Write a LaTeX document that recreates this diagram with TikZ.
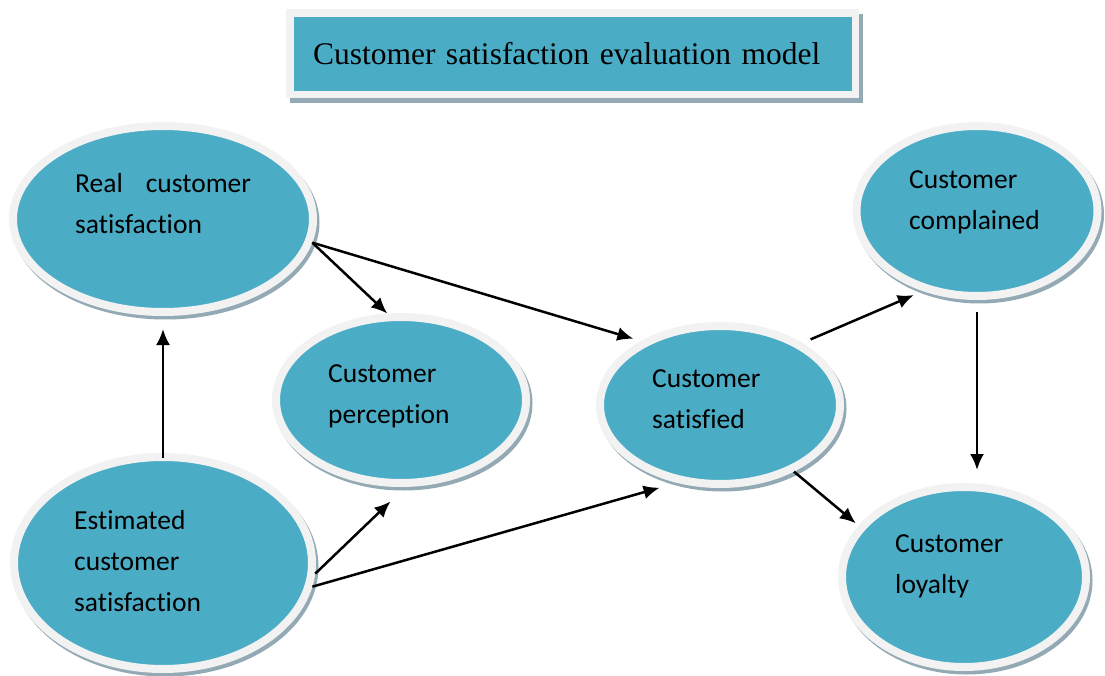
\documentclass[tikz,border=0pt]{standalone}
\usepackage{fontspec}
\setmainfont{Liberation Serif}
\newfontfamily\calfont[Ligatures=NoCommon]{Carlito}
\usepackage{tikz}
\usetikzlibrary{arrows.meta, shapes.geometric, shadows}
\definecolor{boxblue}{HTML}{4BACC6}
\definecolor{ringgray}{HTML}{F2F2F2}
\definecolor{shadegray}{HTML}{93AAB5}
\tikzset{
  bubble/.style={ellipse, draw=ringgray, line width=8pt, fill=boxblue, inner sep=0pt,
    drop shadow={shadow xshift=2.5pt, shadow yshift=-3.5pt, fill=shadegray, draw=shadegray, line width=8pt, opacity=1}},
  bubbletext/.style={anchor=base west, inner sep=0pt, align=left, font=\calfont\fontsize{27.5}{41}\selectfont},
  link/.style={-{Latex[length=16pt,width=14pt]}, line width=2.5pt}
}

\begin{document}
\begin{tikzpicture}[x=1pt, y=-1pt]
\useasboundingbox (0,0) rectangle (1105,676);

\node[rectangle, draw=ringgray, line width=7.5pt, fill=boxblue,
      drop shadow={shadow xshift=4pt, shadow yshift=-5pt, fill=shadegray, draw=shadegray, line width=7.5pt, opacity=1},
      minimum width=565.5pt, minimum height=81.5pt, text width=519.5pt, inner xsep=23pt, align=left,
      font=\fontsize{31.5}{38}\selectfont] (title) at (572.75,53.75) {Customer satisfaction evaluation model};

\node[bubble, minimum width=300pt, minimum height=186pt] (real) at (163,219) {};
\node[bubble, minimum width=298pt, minimum height=212pt] (est) at (163,563) {};
\node[bubble, minimum width=250pt, minimum height=166pt] (perc) at (401,400) {};
\node[bubble, minimum width=240pt, minimum height=158pt] (sat) at (720,405) {};
\node[bubble, minimum width=241pt, minimum height=170pt] (compl) at (977,211) {};
\node[bubble, minimum width=244pt, minimum height=180pt] (loyal) at (964,577) {};

% base anchor sits on the last line
\node[bubbletext] (realtxt) at (75,234) {Real\hspace{23pt}customer\\satisfaction};
\node[bubbletext] (esttxt) at (74,611) {Estimated\\customer\\satisfaction};
\node[bubbletext] (perctxt) at (328,423) {Customer\\perception};
\node[bubbletext] (sattxt) at (652,428) {Customer\\satisfied};
\node[bubbletext] (compltxt) at (909,230) {Customer\\complained};
\node[bubbletext] (loyaltxt) at (895,593) {Customer\\loyalty};

\draw[link, shorten <=-5pt, shorten >=13pt] (est.north) -- (real.south);
\draw[link] (real.-9) -- (perc.99);
\draw[link, shorten >=8pt] (real.-9) -- (sat.141);
\draw[link, shorten >=21pt] (est.-4.5) -- (perc.273);
\draw[link, shorten >=18pt] (est.-9) -- (sat.241.5);
\draw[link, shorten <=9pt, shorten >=10pt] (sat.37.4) -- (compl.236);
\draw[link, shorten <=12pt, shorten >=13pt] (compl.south) -- (compl.south |- loyal.north);
\draw[link, shorten >=3.5pt] (sat.-42) -- (loyal.154);
\end{tikzpicture}
\end{document}
